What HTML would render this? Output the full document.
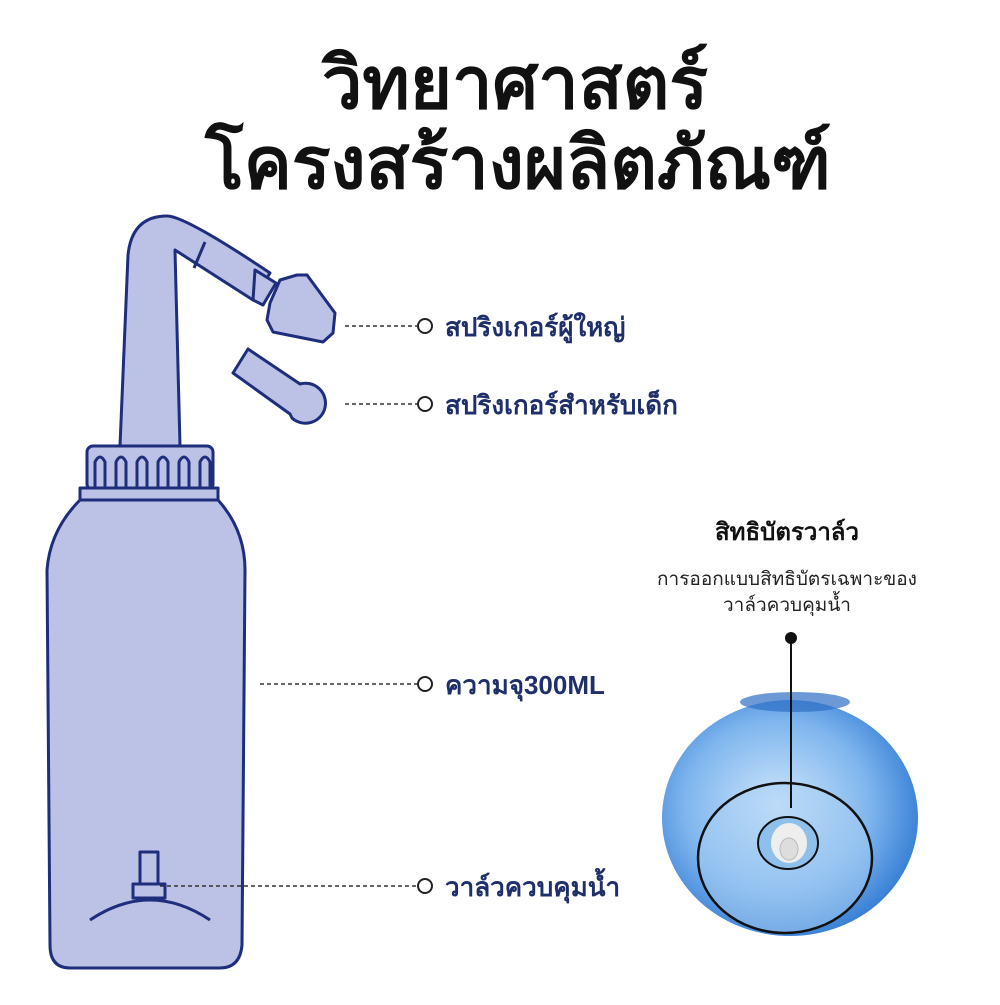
<!DOCTYPE html>
<html><head><meta charset="utf-8"><style>
html,body{margin:0;padding:0;background:#fff;}
body{width:1000px;height:1000px;overflow:hidden;position:relative;font-family:"Liberation Sans","Noto Sans CJK SC",sans-serif;}
</style></head><body>
<svg width="1000" height="1000" viewBox="0 0 1000 1000" xmlns="http://www.w3.org/2000/svg">
<defs>
<radialGradient id="g" cx="0.45" cy="0.45" r="0.6">
<stop offset="0" stop-color="#cfe6fb"/><stop offset="0.6" stop-color="#7fb6ee"/><stop offset="1" stop-color="#2f78d2"/>
</radialGradient>
</defs>
<text x="515" y="108" text-anchor="middle" font-family="'Liberation Sans','Noto Sans CJK SC',sans-serif" font-size="72" font-weight="bold" fill="#111">วิทยาศาสตร์</text>
<text x="518" y="188" text-anchor="middle" font-family="'Liberation Sans','Noto Sans CJK SC',sans-serif" font-size="72" font-weight="bold" fill="#111">โครงสร้างผลิตภัณฑ์</text>
<g fill="#bcc1e6" stroke="#1e2e7c" stroke-width="3" stroke-linejoin="round">
<path d="M120,446 L128,255 Q132,216 167,216 Q185,216 270,273 L253,300 L175,250 L180,446 Z"/>
<line x1="205" y1="242" x2="194" y2="268"/>
<path d="M255,270 L276,283 L263,305 L253,300 Z"/>
<path d="M280,280 L297,275 L307,275 L335,313 L333,333 L323,342 L273,332 L267,320 L270,303 Z"/>
<path d="M248,349 L300,384 A20,20 0 1 1 292,418 L290,414 L233,373 Z"/>
<path d="M80,500 L218,500 Q245,530 245,570 L242,945 Q240,968 220,968 L70,968 Q50,968 50,945 L47,570 Q50,530 80,500 Z"/>
<rect x="87" y="446" width="126" height="44" rx="6"/>
<rect x="80" y="488" width="138" height="12"/>
<path d="M90,920 Q150,880 210,920"/>
<rect x="140" y="852" width="18" height="34"/>
<rect x="133" y="884" width="32" height="14"/>
</g>
<g fill="none" stroke="#1e2e7c" stroke-width="3">
<path d="M95,488 V462 Q100,452 105,462 V488"/><path d="M116,488 V462 Q121,452 126,462 V488"/><path d="M137,488 V462 Q142,452 147,462 V488"/><path d="M158,488 V462 Q163,452 168,462 V488"/><path d="M179,488 V462 Q184,452 189,462 V488"/><path d="M200,488 V462 Q205,452 210,462 V488"/>
</g>
<g stroke="#333" stroke-width="1.5" stroke-dasharray="4,3">
<line x1="345" y1="326" x2="417" y2="326"/><line x1="345" y1="404" x2="417" y2="404"/>
<line x1="260" y1="684" x2="417" y2="684"/><line x1="160" y1="886" x2="417" y2="886"/>
</g>
<g fill="#fff" stroke="#222" stroke-width="2">
<circle cx="425" cy="326" r="7"/><circle cx="425" cy="404" r="7"/><circle cx="425" cy="684" r="7"/><circle cx="425" cy="886" r="7"/>
</g>
<g font-family="'Liberation Sans','Noto Sans CJK SC',sans-serif" font-size="26" font-weight="bold" fill="#1f2f6b">
<text x="445" y="336">สปริงเกอร์ผู้ใหญ่</text>
<text x="445" y="414">สปริงเกอร์สำหรับเด็ก</text>
<text x="445" y="694">ความจุ300ML</text>
<text x="445" y="896">วาล์วควบคุมน้ำ</text>
</g>
<text x="787" y="540" text-anchor="middle" font-size="24" font-weight="bold" fill="#111" font-family="'Liberation Sans','Noto Sans CJK SC',sans-serif">สิทธิบัตรวาล์ว</text>
<text x="787" y="585" text-anchor="middle" font-size="19" fill="#222" font-family="'Liberation Sans','Noto Sans CJK SC',sans-serif">การออกแบบสิทธิบัตรเฉพาะของ</text>
<text x="787" y="611" text-anchor="middle" font-size="19" fill="#222" font-family="'Liberation Sans','Noto Sans CJK SC',sans-serif">วาล์วควบคุมน้ำ</text>
<ellipse cx="790" cy="818" rx="128" ry="118" fill="url(#g)"/>
<ellipse cx="795" cy="702" rx="55" ry="10" fill="#2f6fc4" opacity="0.7"/>
<ellipse cx="785" cy="855" rx="168" ry="0" />
<ellipse cx="785" cy="858" rx="87" ry="75" fill="#a9d0f4" fill-opacity="0.5" stroke="#111" stroke-width="2.5"/>
<ellipse cx="788" cy="843" rx="30" ry="26" fill="#8fc0ec" stroke="#111" stroke-width="2"/>
<ellipse cx="789" cy="843" rx="18" ry="20" fill="#eee"/>
<ellipse cx="789" cy="849" rx="9" ry="11" fill="#ddd" stroke="#bbb"/>
<line x1="791" y1="638" x2="791" y2="808" stroke="#111" stroke-width="2"/>
<circle cx="791" cy="638" r="6" fill="#111"/>
</svg>
</body></html>
